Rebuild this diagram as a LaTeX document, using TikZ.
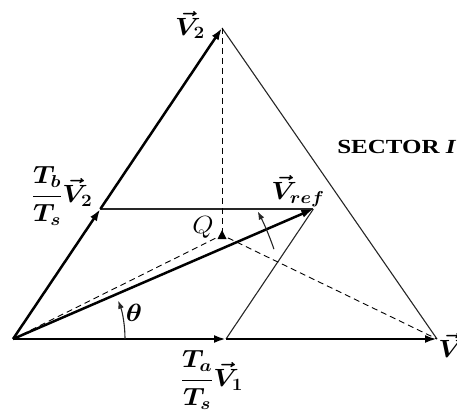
\documentclass[tikz,border=0pt]{standalone}
\usepackage{fontspec}
\setmainfont{Liberation Serif}
\usepackage{amsmath}
\usepackage{bm}
\usetikzlibrary{arrows.meta,calc}

\begin{document}
\begin{tikzpicture}[
    x=1pt, y=1pt,
    vec/.style={line width=2.5pt, -{Latex[length=12pt,width=8pt]}},
    thinline/.style={line width=1.1pt, black!85},
    guide/.style={line width=0.9pt, dash pattern=on 6pt off 4pt},
    lbl/.style={font=\fontsize{24}{26}\selectfont, inner sep=1pt, xscale=1.1}
  ]
  \useasboundingbox (0,0) rectangle (457,410);
  % corners of the sector
  \coordinate (O) at (13,71);
  \coordinate (V1) at (437,71);
  \coordinate (V2) at (222,382);
  \coordinate (Q) at (222,175);
  % components of V_ref
  \coordinate (Ta) at (226,71);
  \coordinate (Tb) at ($(O)!0.418!(V2)$);
  \coordinate (Vr) at ($(Tb)+(Ta)-(O)$);

  \draw[thinline] (V2) -- (V1);
  \draw[thinline] (Tb) -- (Vr);
  \draw[thinline] (Ta) -- (Vr);
  \draw[guide] (O) -- (Q) -- (V1);
  \draw[guide] (V2) -- (Q);
  \fill (Q) +(-4.5,-4) -- +(4.5,-4) -- +(0,5) -- cycle;

  \draw[vec] (O) -- (Tb);
  \draw[vec] (Tb) -- (V2);
  \draw[vec] (O) -- (Ta);
  \draw[vec] (Ta) -- (V1);
  \draw[vec] (O) -- (Vr);

  % angles
  \draw[thinline, -{Latex[length=8pt,width=6pt]}] ($(O)+(112,0)$)
    arc[start angle=0, end angle=20, radius=112];
  \draw[thinline, -{Latex[length=8pt,width=6pt]}] ($(O)+(19:276)$)
    arc[start angle=19, end angle=27.5, radius=276];

  % labels
  \node[lbl] (lV2) at (190,385) {$\bm{\vec{V}_2}$};
  \node[lbl] (lTb) at (62,214) {$\bm{\dfrac{T_b}{T_s}\vec{V}_2}$};
  \node[lbl] (lTa) at (212,30) {$\bm{\dfrac{T_a}{T_s}\vec{V}_1}$};
  \node[lbl] (lVr) at (298,219) {$\bm{\vec{V}_{ref}}$};
  \node[lbl] (lQ) at (203,183) {$Q$};
  \node[lbl] (lth) at (134,97) {$\bm{\theta}$};
  \node[lbl, anchor=west] (lV1) at (437,63) {$\bm{\vec{V}_1}$};
  \node[font=\bfseries\fontsize{20}{22}\selectfont, anchor=base west, xscale=1.25,
    inner sep=0pt] (sec) at (337,256) {SECTOR \textit{I}};
\end{tikzpicture}
\end{document}
